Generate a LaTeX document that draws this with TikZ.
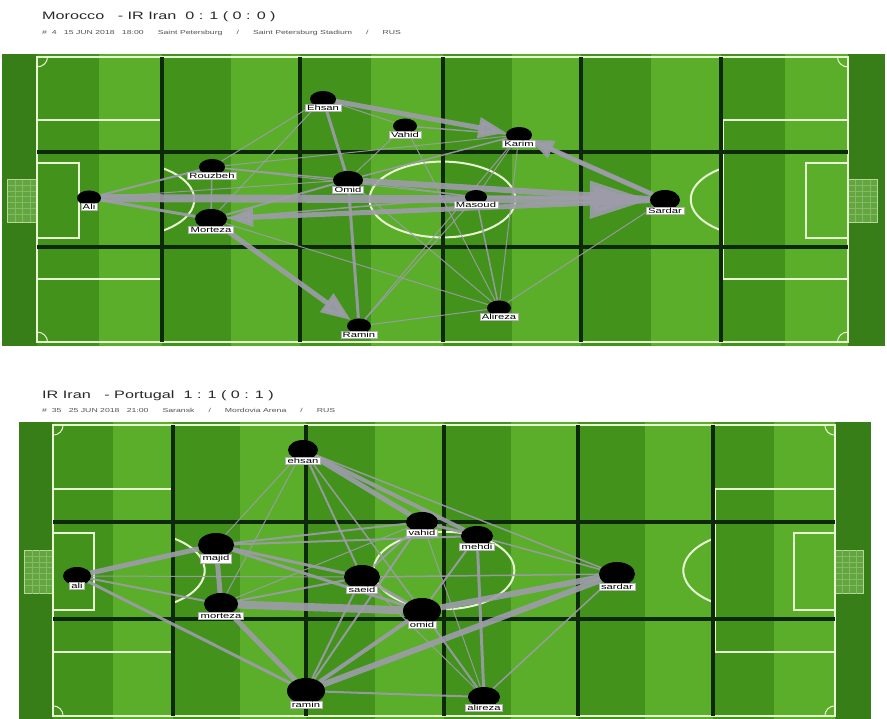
\documentclass[tikz,border=0pt]{standalone}
\usepackage{fontspec}
\setmainfont{Liberation Sans}
\newfontfamily\widefont[FakeStretch=1.5]{Liberation Sans}
\usetikzlibrary{positioning,arrows.meta,shapes.geometric}
\definecolor{grassdark}{RGB}{66,146,28}
\definecolor{grasslight}{RGB}{90,174,42}
\definecolor{grassedge}{RGB}{56,126,24}
\definecolor{chalk}{RGB}{232,245,210}
\definecolor{gridline}{RGB}{14,40,10}
\definecolor{passgrey}{RGB}{158,156,170}
\definecolor{headgrey}{RGB}{40,40,40}
\pgfdeclarelayer{bg}
\pgfsetlayers{bg,main}
\tikzset{
  player/.style 2 args={ellipse, fill=black, minimum width=#1pt, minimum height=#2pt, inner sep=0pt},
  tag/.style={fill=white, draw=gray!60, line width=0.4pt, inner xsep=2pt, inner ysep=0.8pt,
    font=\widefont\fontsize{7.5}{8}\selectfont, text=black},
  pass/.style={draw=passgrey, line width=#1pt, opacity=0.9},
  chalkline/.style={draw=chalk, line width=2pt},
}
% pitch: left goal line x, top touch line y, width, height
\newcommand\drawpitch[4]{%
  \begin{scope}[shift={(#1,#2)}, x=#3pt, y=-#4pt]
    \fill[grassedge] (-0.043,-0.012) rectangle (1.046,1.015);
    \foreach \a/\b in {0/0.154, 0.154/0.324, 0.324/0.5, 0.5/0.671, 0.671/0.844, 0.844/1}{
      \fill[grassdark] (\a,-0.012) rectangle ({(\a+\b)/2},1.015);
      \fill[grasslight] ({(\a+\b)/2},-0.012) rectangle (\b,1.015);
    }
    % nets
    \foreach \s/\t in {-0.036/0, 1/1.036}{
      \draw[chalk!70!grassdark, line width=0.8pt, fill=chalk!20!grassdark] (\s,0.43) rectangle (\t,0.58);
      \foreach \u in {0.45,0.47,...,0.57}
        \draw[chalk!40!grassdark, line width=0.3pt] (\s,\u) -- (\t,\u);
      \foreach \u in {0.25,0.5,0.75}
        \draw[chalk!40!grassdark, line width=0.3pt] ({\s+\u*(\t-\s)},0.43) -- ({\s+\u*(\t-\s)},0.58);
    }
    \draw[chalkline] (0,0) rectangle (1,1);
    \draw[chalkline] (0,0.22) rectangle (0.154,0.78) (1,0.22) rectangle (0.846,0.78);
    \draw[chalkline] (0,0.372) rectangle (0.052,0.635) (1,0.372) rectangle (0.948,0.635);
    \draw[chalkline] (0.5,0.5) ellipse [x radius=0.09, y radius=0.133];
    \draw[chalkline] ([shift={(0.104,0.5)}]-56:0.09 and 0.133)
      arc[start angle=-56, end angle=56, x radius=0.09, y radius=0.133];
    \draw[chalkline] ([shift={(0.896,0.5)}]124:0.09 and 0.133)
      arc[start angle=124, end angle=236, x radius=0.09, y radius=0.133];
    \draw[chalkline, line width=1pt] (0.013,0) arc[start angle=0, end angle=90, x radius=0.013, y radius=0.035]
      (0.013,1) arc[start angle=0, end angle=-90, x radius=0.013, y radius=0.035]
      (0.987,0) arc[start angle=180, end angle=90, x radius=0.013, y radius=0.035]
      (0.987,1) arc[start angle=180, end angle=270, x radius=0.013, y radius=0.035];
    \foreach \g in {0.154,0.324,0.5,0.671,0.844}
      \draw[gridline, line width=4pt] (\g,0) -- (\g,1);
    \foreach \g in {0.333,0.667}
      \draw[gridline, line width=4pt] (0,\g) -- (1,\g);
  \end{scope}}
\begin{document}
\begin{tikzpicture}[x=1pt, y=-1pt]
  \useasboundingbox (0,0) rectangle (887,719);
  \begin{pgfonlayer}{bg}
    \fill[white] (0,0) rectangle (887,719);
  \end{pgfonlayer}

  % match 1
  \node[anchor=west, inner sep=0pt, font=\widefont\fontsize{10.8}{12}\selectfont, text=headgrey]
    (title1) at (42,17) {Morocco \ \ - IR Iran \ 0 : 1 ( 0 : 0 )};
  \node[anchor=west, inner sep=0pt, font=\widefont\fontsize{5.8}{6}\selectfont, text=headgrey!80]
    (info1) at (42,33) {\# \ 4 \ \ 15 JUN 2018 \ \ 18:00 \qquad Saint Petersburg \qquad / \qquad Saint Petersburg Stadium \qquad / \qquad RUS};
  \begin{pgfonlayer}{bg}
    \drawpitch{37}{57}{811}{285}
  \end{pgfonlayer}

  \node[player={24}{15}] (ali1) at (89,198) {};
  \node[player={26}{16}] (rouzbeh1) at (212,167) {};
  \node[player={32}{20}] (morteza1) at (211,219) {};
  \node[player={26}{16}] (ehsan1) at (323,99) {};
  \node[player={24}{15}] (vahid1) at (405,126) {};
  \node[player={30}{18}] (omid1) at (348,180) {};
  \node[player={26}{16}] (karim1) at (519,135) {};
  \node[player={22}{14}] (masoud1) at (476,197) {};
  \node[player={30}{20}] (sardar1) at (665,200) {};
  \node[player={24}{15}] (alireza1) at (499,308) {};
  \node[player={24}{15}] (ramin1) at (359,326) {};

  \begin{pgfonlayer}{bg}
    \foreach \a/\b/\w in {ali1/rouzbeh1/2, ali1/morteza1/3, ali1/omid1/1, ehsan1/omid1/3,
        omid1/ramin1/3, morteza1/omid1/2, rouzbeh1/omid1/1.5, masoud1/sardar1/2,
        karim1/sardar1/3, ehsan1/vahid1/1, ehsan1/rouzbeh1/1, ehsan1/morteza1/1,
        vahid1/karim1/1.5, vahid1/omid1/1, vahid1/alireza1/1, omid1/karim1/1.5,
        omid1/masoud1/1, omid1/alireza1/1, masoud1/alireza1/1.5, karim1/alireza1/1,
        alireza1/sardar1/1, ramin1/alireza1/1, ramin1/masoud1/1, ramin1/karim1/1,
        rouzbeh1/karim1/1, rouzbeh1/masoud1/1, morteza1/masoud1/1.5, morteza1/alireza1/1,
        rouzbeh1/morteza1/1.5, masoud1/karim1/1, omid1/sardar1/6}
      \draw[pass=\w] (\a) -- (\b);
    \draw[pass=8, -{Triangle[length=60pt, width=36pt]}] (ali1) -- (sardar1);
    \draw[pass=5, -{Triangle[length=26pt, width=18pt]}] (sardar1) -- (morteza1);
    \draw[pass=5, -{Triangle[length=30pt, width=22pt]}] (morteza1) -- (ramin1);
    \draw[pass=5, -{Triangle[length=28pt, width=20pt]}] (ehsan1) -- (karim1);
    \draw[pass=5, -{Triangle[length=24pt, width=18pt]}] (sardar1) -- (karim1);
  \end{pgfonlayer}

  \node[tag, below=-3pt of ali1] (ali1t) {Ali};
  \node[tag, below=-3pt of rouzbeh1] (rouzbeh1t) {Rouzbeh};
  \node[tag, below=-3pt of morteza1] (morteza1t) {Morteza};
  \node[tag, below=-3pt of ehsan1] (ehsan1t) {Ehsan};
  \node[tag, below=-3pt of vahid1] (vahid1t) {Vahid};
  \node[tag, below=-3pt of omid1] (omid1t) {Omid};
  \node[tag, below=-3pt of karim1] (karim1t) {Karim};
  \node[tag, below=-3pt of masoud1] (masoud1t) {Masoud};
  \node[tag, below=-3pt of sardar1] (sardar1t) {Sardar};
  \node[tag, below=-3pt of alireza1] (alireza1t) {Alireza};
  \node[tag, below=-3pt of ramin1] (ramin1t) {Ramin};

  % match 2
  \node[anchor=west, inner sep=0pt, font=\widefont\fontsize{10.8}{12}\selectfont, text=headgrey]
    (title2) at (42,396) {IR Iran \ \ - Portugal \ 1 : 1 ( 0 : 1 )};
  \node[anchor=west, inner sep=0pt, font=\widefont\fontsize{5.8}{6}\selectfont, text=headgrey!80]
    (info2) at (42,410) {\# \ 35 \ \ 25 JUN 2018 \ \ 21:00 \qquad Saransk \qquad / \qquad Mordovia Arena \qquad / \qquad RUS};
  \begin{pgfonlayer}{bg}
    \drawpitch{53}{425}{782}{291}
  \end{pgfonlayer}

  \node[player={28}{18}] (ali2) at (77,576) {};
  \node[player={36}{24}] (majid2) at (216,545) {};
  \node[player={34}{22}] (morteza2) at (221,604) {};
  \node[player={30}{20}] (ehsan2) at (303,450) {};
  \node[player={32}{20}] (vahid2) at (422,522) {};
  \node[player={32}{20}] (mehdi2) at (477,536) {};
  \node[player={36}{24}] (saeid2) at (362,577) {};
  \node[player={38}{26}] (omid2) at (422,611) {};
  \node[player={36}{24}] (sardar2) at (617,574) {};
  \node[player={38}{26}] (ramin2) at (306,691) {};
  \node[player={32}{20}] (alireza2) at (484,697) {};

  \begin{pgfonlayer}{bg}
    \foreach \a/\b/\w in {morteza2/omid2/8, omid2/sardar2/6, ramin2/sardar2/6, ali2/majid2/5,
        majid2/morteza2/5, ehsan2/vahid2/5, ehsan2/mehdi2/4, morteza2/ramin2/5,
        mehdi2/alireza2/3, ali2/ramin2/3, ali2/morteza2/2, majid2/saeid2/3,
        majid2/omid2/3, saeid2/omid2/3, ramin2/omid2/4, ramin2/saeid2/2,
        ramin2/vahid2/2, ramin2/alireza2/2, ehsan2/saeid2/2, ehsan2/sardar2/1.5,
        majid2/vahid2/2, majid2/mehdi2/2, vahid2/mehdi2/3, vahid2/saeid2/2,
        mehdi2/sardar2/1.5, saeid2/sardar2/1.5, omid2/alireza2/2, alireza2/sardar2/1.5,
        saeid2/alireza2/1, ehsan2/omid2/1.5, ehsan2/majid2/1, morteza2/vahid2/1,
        morteza2/saeid2/2, ali2/saeid2/1, ehsan2/morteza2/1, vahid2/alireza2/1,
        mehdi2/omid2/2}
      \draw[pass=\w] (\a) -- (\b);
  \end{pgfonlayer}

  \node[tag, below=-3pt of ali2] (ali2t) {ali};
  \node[tag, below=-3pt of majid2] (majid2t) {majid};
  \node[tag, below=-3pt of morteza2] (morteza2t) {morteza};
  \node[tag, below=-3pt of ehsan2] (ehsan2t) {ehsan};
  \node[tag, below=-3pt of vahid2] (vahid2t) {vahid};
  \node[tag, below=-3pt of mehdi2] (mehdi2t) {mehdi};
  \node[tag, below=-3pt of saeid2] (saeid2t) {saeid};
  \node[tag, below=-3pt of omid2] (omid2t) {omid};
  \node[tag, below=-3pt of sardar2] (sardar2t) {sardar};
  \node[tag, below=-3pt of ramin2] (ramin2t) {ramin};
  \node[tag, below=-3pt of alireza2] (alireza2t) {alireza};
\end{tikzpicture}
\end{document}
